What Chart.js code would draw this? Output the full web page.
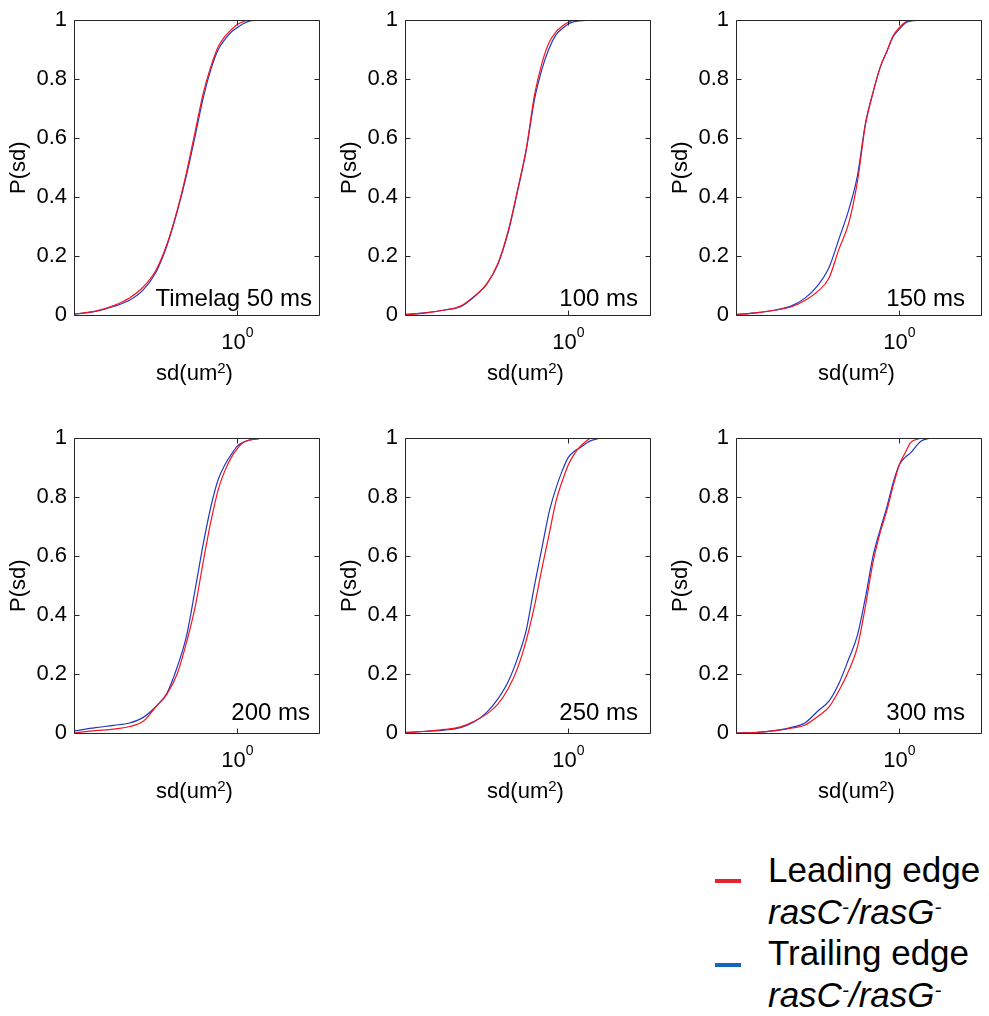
<!DOCTYPE html>
<html>
<head>
<meta charset="utf-8">
<script src="https://cdn.jsdelivr.net/npm/chart.js@4.4.1/dist/chart.umd.min.js"></script>
<style>
  body { margin: 0; background: #fff; font-family: "Liberation Sans", Arial, sans-serif; }
  #page { position: relative; width: 989px; height: 1016px; overflow: hidden; background: #fff; }
  .cell { position: absolute; }
  .legend-line { position: absolute; width: 26px; height: 4px; }
  #legend { position: absolute; left: 768px; top: 849px; font-size: 35px; line-height: 41.7px; color: #000; white-space: nowrap; }
  #legend sup { font-size: 60%; line-height: 0; vertical-align: 0.5em; }
</style>
</head>
<body>
<div id="page">
  <canvas class="cell" id="p0" width="330" height="400" style="left:0;top:0"></canvas>
  <canvas class="cell" id="p1" width="330" height="400" style="left:331px;top:0"></canvas>
  <canvas class="cell" id="p2" width="330" height="400" style="left:662px;top:0"></canvas>
  <canvas class="cell" id="p3" width="330" height="400" style="left:0;top:418px"></canvas>
  <canvas class="cell" id="p4" width="330" height="400" style="left:331px;top:418px"></canvas>
  <canvas class="cell" id="p5" width="330" height="400" style="left:662px;top:418px"></canvas>

  <div class="legend-line" style="left:715px;top:879px;background:#e8222a"></div>
  <div class="legend-line" style="left:715px;top:963px;background:#1366b8"></div>
  <div id="legend">Leading edge<br><i>rasC<sup>-</sup>/rasG<sup>-</sup></i><br>Trailing edge<br><i>rasC<sup>-</sup>/rasG<sup>-</sup></i></div>
</div>

<script>
const sdValues = [0.25, 0.3, 0.35, 0.4, 0.45, 0.5, 0.55, 0.6, 0.65, 0.7, 0.75, 0.8, 0.85, 0.9, 0.95, 1.0, 1.05, 1.1, 1.2, 1.3];
const yTicks = [0, 0.2, 0.4, 0.6, 0.8, 1];
const xTicks = [1];

// P(sd), leading edge (red) and trailing edge (blue), per time lag
const lead50 = [0.003, 0.013, 0.032, 0.058, 0.095, 0.15, 0.24, 0.355, 0.485, 0.625, 0.755, 0.845, 0.91, 0.945, 0.968, 0.985, 0.995, 1.0, 1.0, null];
const trail50 = [0.003, 0.012, 0.029, 0.05, 0.085, 0.143, 0.235, 0.35, 0.475, 0.61, 0.74, 0.835, 0.9, 0.935, 0.96, 0.975, 0.988, 0.996, 1.0, null];
const lead100 = [0.0, 0.007, 0.017, 0.03, 0.064, 0.105, 0.175, 0.285, 0.425, 0.565, 0.745, 0.855, 0.925, 0.96, 0.98, 0.993, 1.0, 1.0, null, null];
const trail100 = [0.002, 0.008, 0.017, 0.028, 0.062, 0.105, 0.172, 0.28, 0.42, 0.56, 0.73, 0.835, 0.905, 0.95, 0.972, 0.987, 0.995, 0.998, 1.0, null];
const lead150 = [0.0, 0.008, 0.017, 0.028, 0.05, 0.08, 0.125, 0.225, 0.31, 0.45, 0.645, 0.755, 0.84, 0.895, 0.948, 0.975, 0.993, 1.0, 1.0, null];
const trail150 = [0.002, 0.008, 0.017, 0.031, 0.058, 0.1, 0.16, 0.26, 0.355, 0.47, 0.65, 0.755, 0.84, 0.895, 0.945, 0.97, 0.99, 0.997, 1.0, null];
const lead200 = [0.0, 0.008, 0.013, 0.022, 0.04, 0.088, 0.132, 0.2, 0.308, 0.43, 0.585, 0.72, 0.825, 0.89, 0.935, 0.965, 0.985, 0.993, 0.998, null];
const trail200 = [0.007, 0.018, 0.026, 0.034, 0.053, 0.089, 0.135, 0.223, 0.33, 0.49, 0.645, 0.77, 0.86, 0.91, 0.945, 0.973, 0.986, 0.993, 1.0, null];
const lead250 = [0.0, 0.006, 0.012, 0.021, 0.04, 0.064, 0.098, 0.15, 0.22, 0.315, 0.43, 0.56, 0.675, 0.785, 0.855, 0.91, 0.945, 0.97, 1.0, null];
const trail250 = [0.002, 0.006, 0.01, 0.018, 0.038, 0.07, 0.116, 0.174, 0.254, 0.35, 0.5, 0.63, 0.75, 0.83, 0.89, 0.935, 0.955, 0.967, 0.99, 1.0];
const lead300 = [0.0, 0.002, 0.008, 0.016, 0.027, 0.056, 0.088, 0.145, 0.21, 0.29, 0.43, 0.58, 0.68, 0.755, 0.84, 0.91, 0.95, 0.985, 1.0, null];
const trail300 = [0.0, 0.002, 0.009, 0.019, 0.035, 0.074, 0.108, 0.17, 0.25, 0.33, 0.46, 0.6, 0.69, 0.767, 0.851, 0.91, 0.935, 0.95, 0.99, 1.0];

const panelLabels = ['Timelag 50 ms', '100 ms', '150 ms', '200 ms', '250 ms', '300 ms'];
const leadSeries = [lead50, lead100, lead150, lead200, lead250, lead300];
const trailSeries = [trail50, trail100, trail150, trail200, trail250, trail300];

// label offsets from bottom-right corner of the axes box
const labelDx = [7, 12, 16, 9, 12, 16];
const labelDy = [9, 9, 9, 13, 13, 13];

const FONT = '"Liberation Sans", Arial, sans-serif';
const LEAD_COLOR = '#f5141e';
const TRAIL_COLOR = '#2238c4';

// MATLAB style box, inward ticks, 10^0 label and sd(um^2) title
const matlabAxes = {
    id: 'matlabAxes',
    afterDraw(chart, args, opts) {
        const ctx = chart.ctx;
        const { left, right, top, bottom } = chart.chartArea;
        const xs = chart.scales.x;
        const ys = chart.scales.y;
        const L = Math.round(left) + 0.5;
        const R = Math.round(right) + 0.5;
        const T = Math.round(top) + 0.5;
        const B = Math.round(bottom) + 0.5;

        ctx.save();
        ctx.strokeStyle = '#262626';
        ctx.lineWidth = 1;
        ctx.beginPath();
        ctx.rect(L, T, R - L, B - T);
        yTicks.forEach(v => {
            const y = Math.round(ys.getPixelForValue(v)) + 0.5;
            ctx.moveTo(L, y);
            ctx.lineTo(L + 5, y);
            ctx.moveTo(R, y);
            ctx.lineTo(R - 5, y);
        });
        xTicks.forEach(v => {
            const x = Math.round(xs.getPixelForValue(v)) + 0.5;
            ctx.moveTo(x, B);
            ctx.lineTo(x, B - 5);
            ctx.moveTo(x, T);
            ctx.lineTo(x, T + 5);
        });
        ctx.stroke();

        ctx.fillStyle = '#000';
        ctx.textBaseline = 'alphabetic';
        ctx.textAlign = 'left';
        xTicks.forEach(v => {
            const x = xs.getPixelForValue(v);
            const exp = String(Math.round(Math.log10(v)));
            ctx.font = '22px ' + FONT;
            const wb = ctx.measureText('10').width;
            ctx.font = '14px ' + FONT;
            const we = ctx.measureText(exp).width;
            const x0 = x - (wb + we) / 2;
            ctx.font = '22px ' + FONT;
            ctx.fillText('10', x0, bottom + 34);
            ctx.font = '14px ' + FONT;
            ctx.fillText(exp, x0 + wb, bottom + 22);
        });

        // x axis title with superscript
        ctx.font = '22px ' + FONT;
        const w1 = ctx.measureText('sd(um').width;
        const w3 = ctx.measureText(')').width;
        ctx.font = '15px ' + FONT;
        const w2 = ctx.measureText('2').width;
        let tx = (left + right) / 2 - (w1 + w2 + w3) / 2 - 2;
        ctx.font = '22px ' + FONT;
        ctx.fillText('sd(um', tx, bottom + 65);
        ctx.font = '15px ' + FONT;
        ctx.fillText('2', tx + w1, bottom + 58);
        ctx.font = '22px ' + FONT;
        ctx.fillText(')', tx + w1 + w2, bottom + 65);

        ctx.font = '24px ' + FONT;
        ctx.textAlign = 'right';
        ctx.fillText(opts.label, right - opts.dx, bottom - opts.dy);
        ctx.restore();
    }
};

function toPoints(vals) {
    return sdValues.map((x, i) => ({ x: x, y: vals[i] }));
}

function makePanel(i) {
    const canvas = document.getElementById('p' + i);
    return new Chart(canvas, {
        type: 'line',
        data: {
            datasets: [
                {
                    label: 'Leading edge',
                    data: toPoints(leadSeries[i]),
                    borderColor: LEAD_COLOR,
                    borderWidth: 1.2,
                    pointRadius: 0,
                    cubicInterpolationMode: 'monotone',
                },
                {
                    label: 'Trailing edge',
                    data: toPoints(trailSeries[i]),
                    borderColor: TRAIL_COLOR,
                    borderWidth: 1.2,
                    pointRadius: 0,
                    cubicInterpolationMode: 'monotone',
                },
            ],
        },
        options: {
            responsive: false,
            animation: false,
            devicePixelRatio: 1,
            events: [],
            layout: { padding: { left: 0, right: 11, top: 14, bottom: 0 } },
            plugins: {
                legend: { display: false },
                tooltip: { enabled: false },
                matlabAxes: { label: panelLabels[i], dx: labelDx[i], dy: labelDy[i] },
            },
            scales: {
                x: {
                    type: 'logarithmic',
                    min: 0.25,
                    max: 2,
                    afterFit: s => { s.height = 85; },
                    grid: { display: false, drawTicks: false },
                    border: { display: false },
                    ticks: { display: false },
                },
                y: {
                    min: 0,
                    max: 1,
                    afterBuildTicks: s => { s.ticks = yTicks.map(v => ({ value: v })); },
                    afterFit: s => { s.width = 74; },
                    grid: { display: false, drawTicks: false },
                    border: { display: false },
                    ticks: {
                        color: '#000',
                        font: { family: FONT, size: 22 },
                        padding: 7,
                        autoSkip: false,
                        callback: v => String(v),
                    },
                    title: {
                        display: true,
                        text: 'P(sd)',
                        color: '#000',
                        font: { family: FONT, size: 22 },
                        padding: { top: 6, bottom: 0 },
                    },
                },
            },
        },
        plugins: [matlabAxes],
    });
}

for (let i = 0; i < 6; i++) {
    makePanel(i);
}
</script>
</body>
</html>
